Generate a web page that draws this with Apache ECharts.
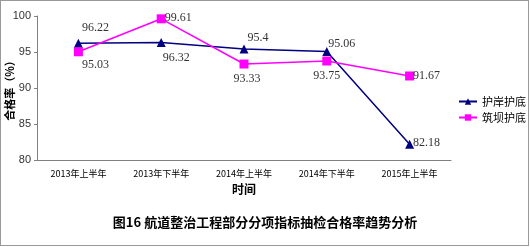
<!DOCTYPE html>
<html><head><meta charset="utf-8">
<script src="https://cdn.jsdelivr.net/npm/echarts@6/dist/echarts.min.js"></script>
<style>html,body{margin:0;padding:0;background:#fff}#c{width:530px;height:247px}</style>
</head><body><div id="c"></div>
<script>
const categories = ['2013年上半年','2013年下半年','2014年上半年','2014年下半年','2015年上半年'];
const seriesNames = ['护岸护底','筑坝护底'];
const anBank = [96.22, 96.32, 95.4, 95.06, 82.18];
const dam = [95.03, 99.61, 93.33, 93.75, 91.67];
const yTicks = {min: 80, max: 100, interval: 5};

// label offsets (styling only)
const offA = [[17,-15],[15,15],[14,-11],[15,-8],[17,-1]];
const offB = [[17,13],[17,-1],[3,15],[0,15],[17,0]];

const chart = echarts.init(document.getElementById('c'));
const lblFont = {fontFamily:'Liberation Serif, serif', fontSize:12, color:'#333'};
function mk(vals, offs){
  return vals.map((v,i)=>({value:v, label:Object.assign({show:true, position:'inside', offset:offs[i]}, lblFont)}));
}
chart.setOption({
  animation:false,
  backgroundColor:'#fff',
  grid:{left:37, right:79, top:16, bottom:87, containLabel:false, outerBoundsMode:'none'},
  title:{text:'图16 航道整治工程部分分项指标抽检合格率趋势分析', left:'center', top:211,
    textStyle:{fontSize:13, fontWeight:'bold', color:'#000', fontFamily:'Noto Sans CJK SC'}},
  legend:{orient:'vertical', left:453, top:91, itemWidth:18, itemHeight:8, itemGap:5,
    textStyle:{fontSize:11, color:'#000', fontFamily:'Noto Sans CJK SC'},
    data:seriesNames},
  xAxis:{type:'category', data:categories, boundaryGap:true,
    name:'时间', nameLocation:'middle', nameGap:23, nameMoveOverlap:false,
    nameTextStyle:{fontSize:12, fontWeight:'bold', color:'#000', fontFamily:'Noto Sans CJK SC'},
    axisLine:{lineStyle:{color:'#808080'}},
    axisTick:{inside:true, length:3, lineStyle:{color:'#808080'}},
    axisLabel:{fontSize:9, color:'#000', margin:9, fontFamily:'Noto Sans CJK SC'}},
  yAxis:{type:'value', min:yTicks.min, max:yTicks.max, interval:yTicks.interval,
    name:'合格率（%）', nameLocation:'middle', nameRotate:90, nameGap:27, nameMoveOverlap:false,
    nameTextStyle:{fontSize:11, fontWeight:'bold', color:'#000', fontFamily:'Noto Sans CJK SC', align:'center', verticalAlign:'middle'},
    splitLine:{show:false},
    axisLine:{show:true, lineStyle:{color:'#808080'}},
    axisTick:{show:true, length:3, lineStyle:{color:'#808080'}},
    axisLabel:{fontSize:11, color:'#333', margin:6, fontFamily:'Liberation Sans'}},
  graphic:[{type:'rect', shape:{x:0.5,y:0.5,width:528,height:245}, style:{fill:'none', stroke:'#333', lineWidth:1, lineDash:[1,1]}, z:100}],
  series:[
    {name:seriesNames[0], type:'line', data:mk(anBank, offA), symbol:'triangle', symbolSize:9,
      lineStyle:{color:'#000080', width:1.5}, itemStyle:{color:'#000080'}},
    {name:seriesNames[1], type:'line', data:mk(dam, offB), symbol:'rect', symbolSize:9,
      lineStyle:{color:'#FF00FF', width:1.5}, itemStyle:{color:'#FF00FF'}}
  ]
});
</script></body></html>
